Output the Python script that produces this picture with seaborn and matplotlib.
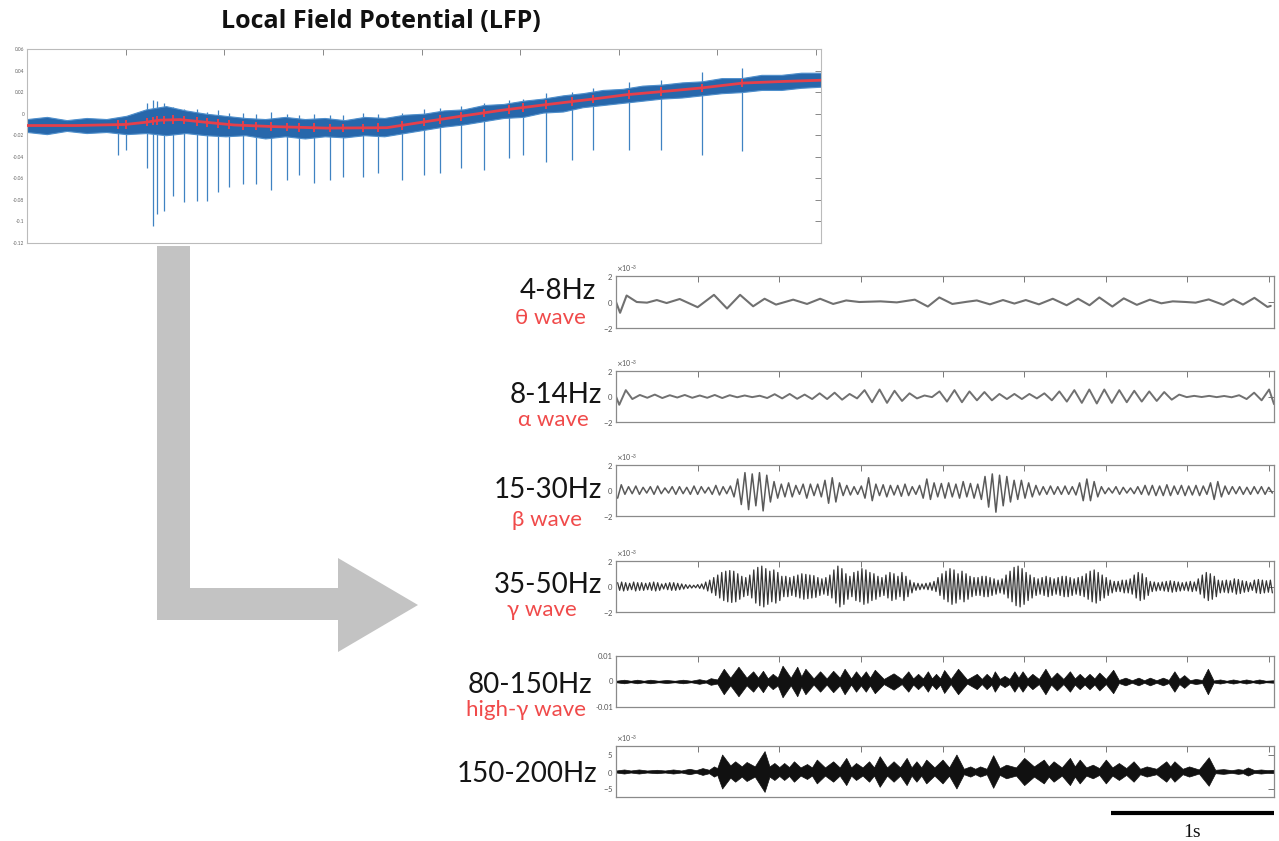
import numpy as np
import matplotlib
matplotlib.use("Agg")
import matplotlib.pyplot as plt
import seaborn as sns
from matplotlib.patches import Polygon
from matplotlib.transforms import blended_transform_factory

# ---------------- DATA ----------------
title_text = "Local Field Potential (LFP)"

# LFP (top panel) -- x in tick units (0..8.05)
lfp_xticks = [1, 2, 3, 4, 5, 6, 7, 8]
lfp_yticks = [-0.12, -0.1, -0.08, -0.06, -0.04, -0.02, 0, 0.02, 0.04, 0.06]
lfp_yticklabels = ["-0.12", "-0.1", "-0.08", "-0.06", "-0.04", "-0.02", "0", "0.02", "0.04", "0.06"]
lfp_band_u = np.linspace(0, 8.05, 41)
lfp_hi = [-0.005, -0.003, -0.006, -0.004, -0.005, -0.002, 0.004, 0.007, 0.003, 0.000,
          -0.002, -0.004, -0.005, -0.003, -0.005, -0.004, -0.006, -0.003, -0.004, -0.001,
          0.000, 0.003, 0.004, 0.008, 0.009, 0.012, 0.014, 0.017, 0.019, 0.022,
          0.023, 0.026, 0.027, 0.029, 0.030, 0.033, 0.033, 0.036, 0.036, 0.038, 0.038]
lfp_lo = [-0.017, -0.019, -0.016, -0.018, -0.017, -0.019, -0.018, -0.020, -0.018, -0.020,
          -0.021, -0.020, -0.023, -0.021, -0.023, -0.021, -0.022, -0.020, -0.021, -0.018,
          -0.015, -0.012, -0.010, -0.007, -0.004, -0.003, 0.001, 0.002, 0.006, 0.008,
          0.010, 0.012, 0.014, 0.015, 0.017, 0.019, 0.020, 0.022, 0.022, 0.024, 0.025]
red_u = [0, 0.5, 1.0, 1.2, 1.35, 1.55, 1.76, 2.1, 2.5, 3.04, 3.65, 4.0, 4.39, 4.8,
         5.23, 5.74, 6.08, 6.5, 6.83, 7.26, 7.7, 8.05]
red_v = [-0.011, -0.011, -0.010, -0.008, -0.006, -0.0055, -0.0075, -0.0105, -0.012,
         -0.0134, -0.013, -0.008, -0.0025, 0.003, 0.008, 0.0136, 0.0176, 0.021, 0.0238,
         0.0284, 0.030, 0.031]
spike_u = [0.92, 1.0, 1.22, 1.28, 1.32, 1.39, 1.48, 1.59, 1.72, 1.83, 1.94, 2.05, 2.19,
           2.32, 2.47, 2.64, 2.76, 2.91, 3.07, 3.2, 3.41, 3.56, 3.8, 4.02, 4.19, 4.4,
           4.63, 4.89, 5.03, 5.26, 5.53, 5.74, 6.1, 6.43, 6.84, 7.25]
spike_min = [-0.038, -0.034, -0.050, -0.104, -0.093, -0.090, -0.076, -0.082, -0.081,
             -0.081, -0.073, -0.068, -0.065, -0.065, -0.071, -0.062, -0.057, -0.064,
             -0.062, -0.059, -0.059, -0.055, -0.062, -0.057, -0.055, -0.050, -0.052,
             -0.041, -0.038, -0.045, -0.043, -0.034, -0.034, -0.034, -0.038, -0.035]
spike_max = [-0.004, -0.002, 0.010, 0.013, 0.012, 0.010, 0.006, 0.004, 0.004, 0.002,
             0.003, 0.001, 0.001, 0.0, 0.002, 0.0, -0.001, 0.0, -0.001, -0.001, 0.001,
             0.0, 0.001, 0.004, 0.005, 0.007, 0.010, 0.013, 0.014, 0.019, 0.020, 0.024,
             0.029, 0.031, 0.039, 0.042]

# Band-filtered traces (time in s, amplitude in units of 1e-3)
band_names = ["4-8Hz", "8-14Hz", "15-30Hz", "35-50Hz", "80-150Hz", "150-200Hz"]
wave_names = ["θ wave", "α wave", "β wave", "γ wave", "high-γ wave", ""]
panel_xticks = [0.5, 1.0, 1.5, 2.0, 2.5, 3.0, 3.5, 4.0]

theta_t = [0.0, 0.025, 0.065, 0.127, 0.19, 0.25, 0.31, 0.39, 0.50, 0.60,
           0.68, 0.76, 0.84, 0.91, 0.98, 1.085, 1.17, 1.25, 1.33, 1.41,
           1.49, 1.62, 1.72, 1.83, 1.91, 1.98, 2.06, 2.15, 2.21, 2.29,
           2.37, 2.44, 2.51, 2.59, 2.675, 2.76, 2.83, 2.90, 2.96, 3.04,
           3.11, 3.19, 3.27, 3.34, 3.41, 3.49, 3.55, 3.63, 3.72, 3.78,
           3.84, 3.91, 3.99, 4.01]
theta_v = [0, -0.83, 0.5, 0.0, -0.05, 0.15, -0.08, 0.23, -0.4, 0.55,
           -0.5, 0.55, -0.33, 0.25, -0.2, 0.18, -0.15, 0.25, -0.15, 0.12,
           0.0, 0.05, -0.03, 0.18, -0.35, 0.35, -0.15, 0.02, 0.12, -0.18,
           0.15, -0.12, 0.15, -0.18, 0.25, -0.25, 0.25, -0.25, 0.35, -0.35,
           0.28, -0.22, 0.18, -0.1, 0.05, 0.0, -0.05, 0.2, -0.22, 0.2,
           -0.2, 0.32, -0.38, -0.3]

alpha_head_t = [0.0, 0.02, 0.06]
alpha_head_v = [0.0, -0.65, 0.5]
alpha_v = [-0.2, 0.12, -0.1, 0.15, -0.12, 0.1, -0.08, 0.12, -0.1, 0.08, -0.1, 0.12,
           -0.12, 0.1, -0.06, 0.08, -0.05, 0.06,
           -0.12, 0.18, -0.15, 0.2, -0.18, 0.15, -0.2, 0.25, -0.2,
           0.3, -0.25, 0.2, -0.15,
           0.5, -0.45, 0.55, -0.5, 0.45, -0.35,
           0.25, -0.15, 0.08, -0.05,
           0.4, -0.4, 0.5, -0.45, 0.4,
           -0.3, 0.35, -0.3, 0.2, -0.2, 0.2,
           -0.2, 0.2, -0.15, 0.25,
           -0.3, 0.4, -0.4, 0.5, -0.5, 0.55, -0.55, 0.55, -0.5, 0.5, -0.45, 0.45, -0.4, 0.4, -0.35,
           0.35, -0.25, 0.15,
           -0.05, 0.05, -0.04, 0.05, -0.05, 0.04, -0.06, 0.1,
           -0.2, 0.3, -0.3, 0.55]
alpha_tail_t = [4.03]
alpha_tail_v = [-0.6]

beta_v = [-0.6, 0.45, -0.3, 0.3, -0.25, 0.35, -0.3, 0.25, -0.2, 0.3, -0.3, 0.35, -0.25, 0.2,
          -0.2, 0.3, -0.3, 0.3, -0.25, 0.25, -0.3, 0.35, -0.3, 0.3, -0.2, 0.25, -0.3, 0.4,
          -0.35, 0.3, -0.25, 0.35,
          -0.5, 0.9, -1.1, 1.4, -1.5, 1.3, -1.2, 1.4, -1.6, 1.2, -0.9,
          0.7, -0.6, 0.5, -0.5, 0.6, -0.5, 0.4, -0.3, 0.5, -0.6, 0.5, -0.4, 0.5, -0.5,
          0.8, -1.0, 1.0, -0.9, 0.6,
          -0.4, 0.4, -0.35, 0.3, -0.3, 0.35,
          -0.6, 1.0, -0.8, 0.5,
          -0.4, 0.45, -0.5, 0.4, -0.35, 0.4, -0.45, 0.5, -0.4, 0.3, -0.3, 0.4,
          -0.6, 0.9, -0.7,
          0.6, -0.5, 0.55, -0.6, 0.6, -0.5, 0.5, -0.6, 0.7, -0.5, 0.55, -0.6, 0.5,
          -0.7, 1.1, -1.3, 1.3, -1.7, 1.2, -1.2, 1.1, -0.9,
          0.8, -0.7, 0.8, -0.6, 0.6, -0.5, 0.4,
          -0.35, 0.3, -0.3, 0.35, -0.3, 0.3, -0.3, 0.35, -0.3, 0.3, -0.35,
          0.6, -0.8, 0.9, -0.8, 0.7, -0.5,
          0.3, -0.25, 0.2, -0.2, 0.3, -0.3, 0.25, -0.2, 0.2, -0.25, 0.3, -0.3,
          0.4, -0.35, 0.4, -0.4, 0.35, -0.4, 0.45, -0.4, 0.35, -0.3, 0.4, -0.4, 0.35, -0.35,
          0.4, -0.4, 0.35, -0.3,
          0.6, -0.7, 0.7, -0.5,
          0.35, -0.3, 0.3, -0.25, 0.3, -0.3, 0.25, -0.3, 0.3, -0.25, 0.3, -0.3, 0.25, -0.2]

gamma_amp = [0.3, 0.35, 0.3, 0.25, 0.35, 0.3, 0.3, 0.25, 0.3, 0.35, 0.3, 0.2, 0.25, 0.3,
             0.3, 0.25, 0.2, 0.15, 0.12, 0.1, 0.15,
             0.2, 0.35, 0.5, 0.7, 0.9, 1.1, 1.2, 1.25, 1.2, 1.0, 0.8,
             0.7, 0.9, 1.3, 1.5, 1.6, 1.4, 1.2, 1.3, 1.1, 0.8,
             0.8, 0.7, 0.8, 0.9, 1.0, 0.95, 0.9, 0.85, 0.7, 0.6, 0.7,
             0.9, 1.3, 1.6, 1.4, 1.0, 0.8, 1.1,
             1.2, 1.4, 1.3, 1.1, 1.0, 0.8, 0.7, 0.9, 1.1, 1.0,
             0.8, 1.1, 0.8, 0.5,
             0.3, 0.25, 0.2, 0.25, 0.3, 0.4,
             0.7, 1.0, 1.2, 1.4, 1.3, 1.0, 1.2, 1.0, 0.8, 0.7,
             0.7, 0.8, 0.8, 0.7, 0.6, 0.5, 0.6,
             0.9, 1.2, 1.5, 1.6, 1.4, 1.1, 0.9,
             0.7, 0.6, 0.7, 0.8, 0.7, 0.6, 0.7, 0.8, 0.8, 0.7, 0.6, 0.7, 0.8,
             1.0, 1.2, 1.3, 1.1, 0.9, 0.7,
             0.5, 0.4, 0.4, 0.5, 0.5, 0.6,
             0.9, 1.1, 1.0, 0.7,
             0.4, 0.35, 0.3, 0.35, 0.4, 0.45, 0.4, 0.35, 0.3, 0.35, 0.4, 0.35,
             0.6, 0.9, 1.1, 1.0, 0.8, 0.5,
             0.45, 0.5, 0.45, 0.6, 0.55, 0.45, 0.4, 0.3,
             0.5, 0.55, 0.5, 0.45, 0.5]

hg_t = [0.00, 0.05, 0.09, 0.13, 0.17, 0.21, 0.26, 0.31, 0.36, 0.41, 0.46, 0.51, 0.55, 0.58,
        0.62, 0.66, 0.70, 0.75, 0.80, 0.84, 0.87, 0.90, 0.93, 0.96, 0.99, 1.02, 1.07, 1.11,
        1.135, 1.16, 1.21, 1.25, 1.29, 1.33, 1.37, 1.40, 1.44, 1.47, 1.50, 1.53, 1.555,
        1.585, 1.64, 1.70, 1.75, 1.79, 1.82, 1.85, 1.88, 1.91, 1.935, 1.96, 1.985, 2.01,
        2.05, 2.095, 2.15, 2.21, 2.24, 2.27, 2.30, 2.32, 2.35, 2.38, 2.41, 2.44, 2.465,
        2.49, 2.52, 2.55, 2.59, 2.63, 2.665, 2.70, 2.74, 2.78, 2.81, 2.84, 2.87, 2.90,
        2.93, 2.96, 3.00, 3.045, 3.08, 3.12, 3.16, 3.20, 3.235, 3.27, 3.31, 3.35, 3.385,
        3.42, 3.45, 3.48, 3.515, 3.55, 3.59, 3.625, 3.66, 3.70, 3.74, 3.78, 3.82, 3.86,
        3.90, 3.94, 3.98, 4.03]
hg_amp = [0.3, 0.7, 0.3, 0.7, 0.3, 0.7, 0.3, 0.6, 0.3, 0.7, 0.3, 0.9, 0.4, 1.3,
          0.8, 5.0, 1.5, 5.8, 1.5, 4.0, 1.5, 4.2, 1.2, 3.0, 1.5, 6.2, 1.5, 5.8,
          2.0, 5.0, 1.2, 4.0, 1.2, 4.2, 1.5, 5.0, 1.2, 4.0, 1.5, 4.0, 1.5,
          4.6, 1.0, 3.2, 1.0, 4.0, 1.2, 3.0, 1.2, 4.0, 1.2, 3.0, 1.2, 4.5,
          1.0, 5.0, 0.8, 3.0, 1.0, 3.0, 1.2, 4.0, 1.0, 2.2, 1.0, 4.0, 1.5,
          4.0, 1.2, 3.0, 1.0, 5.0, 1.2, 3.5, 1.0, 4.0, 1.2, 3.0, 1.2, 3.0,
          1.2, 3.5, 1.0, 4.6, 0.6, 1.5, 0.5, 1.5, 0.5, 1.5, 0.5, 1.5, 0.6,
          4.0, 1.0, 2.5, 0.5, 1.0, 0.6, 5.0, 0.4, 0.8, 0.3, 0.8, 0.3, 0.8,
          0.3, 0.8, 0.3, 0.5]

uhg_t = [0.00, 0.05, 0.09, 0.14, 0.19, 0.25, 0.30, 0.35, 0.40, 0.45, 0.49, 0.53, 0.57,
         0.60, 0.62, 0.65, 0.70, 0.73, 0.77, 0.80, 0.85, 0.91, 0.94, 0.97, 1.00, 1.03,
         1.06, 1.09, 1.13, 1.17, 1.20, 1.23, 1.28, 1.33, 1.37, 1.41, 1.44, 1.47, 1.51,
         1.55, 1.58, 1.615, 1.66, 1.70, 1.74, 1.78, 1.81, 1.84, 1.87, 1.90, 1.95, 2.00,
         2.04, 2.085, 2.13, 2.17, 2.20, 2.23, 2.27, 2.31, 2.35, 2.39, 2.45, 2.50, 2.56,
         2.62, 2.65, 2.68, 2.73, 2.78, 2.81, 2.84, 2.88, 2.92, 2.96, 3.00, 3.04, 3.08,
         3.125, 3.17, 3.21, 3.25, 3.31, 3.37, 3.395, 3.42, 3.47, 3.51, 3.57, 3.63, 3.67,
         3.72, 3.77, 3.81, 3.84, 3.87, 3.91, 3.95, 3.99, 4.03]
uhg_amp = [0.3, 0.6, 0.3, 0.6, 0.3, 0.5, 0.3, 0.6, 0.3, 0.8, 0.4, 1.0, 0.5,
           1.5, 1.0, 5.0, 1.8, 3.0, 1.5, 2.8, 1.5, 6.0, 1.5, 2.5, 1.3, 2.5,
           1.3, 3.0, 1.2, 2.2, 1.2, 3.5, 1.2, 3.0, 1.2, 4.0, 1.2, 2.5, 1.2,
           3.0, 1.2, 4.5, 1.2, 3.0, 1.2, 4.0, 1.2, 3.0, 1.2, 3.5, 1.2, 3.5,
           1.2, 5.0, 0.8, 1.5, 0.8, 1.5, 0.8, 4.8, 1.0, 2.0, 1.2, 4.0, 1.5,
           3.5, 1.5, 3.0, 1.2, 4.0, 1.5, 3.5, 1.2, 2.0, 1.0, 3.5, 1.2, 2.5,
           1.0, 3.0, 0.8, 1.5, 0.8, 3.0, 1.5, 3.0, 0.8, 1.5, 0.6, 4.2, 0.5,
           0.7, 0.4, 0.7, 0.5, 1.2, 0.4, 0.6, 0.4, 0.5]

scalebar_start = 3.03
scalebar_len = 1.0
scalebar_label = "1s"

# ---------------- STYLE ----------------
sns.set_style("white")
plt.rcParams["font.family"] = ["Lato", "DejaVu Sans"]
plt.rcParams["axes.unicode_minus"] = True

W, H = 1279, 841
fig = plt.figure(figsize=(W / 100, H / 100), dpi=100)


def axes_px(left, top, right, bottom):
    return fig.add_axes([left / W, 1 - bottom / H, (right - left) / W, (bottom - top) / H])


def fpt(px, py):
    return (px / W, 1 - py / H)


SPINE = "#8a8a8a"
TICKC = "#555555"

# ---------------- LFP PANEL ----------------
ax0 = axes_px(27, 49, 821, 243)
blue = "#2767ab"
ax0.vlines(spike_u, spike_min, spike_max, color="#3f82c2", linewidth=0.9, zorder=1)
ax0.fill_between(lfp_band_u, lfp_lo, lfp_hi, color=blue, linewidth=0.8,
                 edgecolor="#4f8fcb", zorder=2)
sns.lineplot(x=red_u, y=red_v, ax=ax0, color="#e5404b", linewidth=2.0, zorder=3,
             estimator=None, sort=False)
red_at_spike = np.interp(spike_u, red_u, red_v)
ax0.vlines(spike_u, red_at_spike - 0.004, red_at_spike + 0.004, color="#e5404b",
           linewidth=1.4, zorder=3)
ax0.set_xlim(0, 8.05)
ax0.set_ylim(-0.12, 0.06)
ax0.set_xticks(lfp_xticks)
ax0.set_yticks(lfp_yticks)
ax0.set_yticklabels(lfp_yticklabels)
ax0.tick_params(direction="in", top=True, right=True, length=4, width=0.7,
                color="#888888", labelbottom=False, labelsize=3.5,
                labelcolor="#666666", pad=2)
for s in ax0.spines.values():
    s.set_color("#bbbbbb")
    s.set_linewidth(0.8)
ax0.set_xlabel("")
ax0.set_ylabel("")

fig.text(*fpt(381, 22), title_text, ha="center", va="center", fontsize=18,
         fontweight="bold", family=["Open Sans", "DejaVu Sans"], color="#111111")

# ---------------- ARROW ----------------
arrow_px = [(157, 246), (190, 246), (190, 588), (338, 588), (338, 558), (418, 605),
            (338, 652), (338, 620), (157, 620)]
fig.patches.append(Polygon([fpt(x, y) for x, y in arrow_px], closed=True,
                           transform=fig.transFigure, facecolor="#c3c3c3",
                           edgecolor="none", zorder=0))

# ---------------- BAND PANELS ----------------
panel_px = [(276, 328), (371, 422), (465, 516), (561, 612), (656, 707), (746, 797)]
name_pos = [(596, 299), (602, 403), (602, 498), (602, 593), (592, 693), (597, 782)]
wave_pos = [(586, 324), (589, 426), (582, 526), (577, 616), (586, 716), (0, 0)]

axes = []
for i, (top, bot) in enumerate(panel_px):
    ax = axes_px(616, top, 1274, bot)
    axes.append(ax)

# theta
sns.lineplot(x=theta_t, y=np.array(theta_v) * 1e-3, ax=axes[0], color="#707070",
             linewidth=1.5, estimator=None, sort=False)
# alpha
alpha_t = np.concatenate([alpha_head_t, np.linspace(0.10, 4.0, len(alpha_v)), alpha_tail_t])
alpha_all = np.concatenate([alpha_head_v, alpha_v, alpha_tail_v])
sns.lineplot(x=alpha_t, y=alpha_all * 1e-3, ax=axes[1], color="#707070",
             linewidth=1.4, estimator=None, sort=False)
# beta
beta_t = np.linspace(0.01, 4.02, len(beta_v))
sns.lineplot(x=beta_t, y=np.array(beta_v) * 1e-3, ax=axes[2], color="#5a5a5a",
             linewidth=1.1, estimator=None, sort=False)
# gamma: each cycle drawn as a peak followed by a trough
g = np.array(gamma_amp)
gamma_y = np.empty(2 * len(g))
gamma_y[0::2] = g
gamma_y[1::2] = -g
gamma_t = np.linspace(0.01, 4.02, len(gamma_y))
sns.lineplot(x=gamma_t, y=gamma_y * 1e-3, ax=axes[3], color="#353535",
             linewidth=0.9, estimator=None, sort=False)
# high gamma envelopes
for ax, tt, aa in [(axes[4], hg_t, hg_amp), (axes[5], uhg_t, uhg_amp)]:
    a = np.array(aa) * 1e-3
    ax.fill_between(tt, -a, a, color="#111111", linewidth=0.5, edgecolor="#111111")
    sns.lineplot(x=tt, y=np.zeros(len(tt)), ax=ax, color="#111111", linewidth=1.2,
                 estimator=None, sort=False)

ylims = [2e-3, 2e-3, 2e-3, 2e-3, 0.01, 7.5e-3]
yticks = [[-2e-3, 0, 2e-3]] * 4 + [[-0.01, 0, 0.01], [-5e-3, 0, 5e-3]]
for i, ax in enumerate(axes):
    ax.set_xlim(0, 4.03)
    ax.set_ylim(-ylims[i], ylims[i])
    ax.set_xticks(panel_xticks)
    ax.set_yticks(yticks[i])
    if i == 4:
        ax.set_yticklabels(["-0.01", "0", "0.01"])
    else:
        ax.ticklabel_format(axis="y", style="sci", scilimits=(0, 0), useMathText=True)
        ax.yaxis.get_offset_text().set_fontsize(5)
        ax.yaxis.get_offset_text().set_color(TICKC)
    ax.tick_params(direction="in", top=True, right=True, length=4, width=0.7,
                   color="#777777", labelbottom=False, labelsize=5.5,
                   labelcolor=TICKC, pad=2)
    for s in ax.spines.values():
        s.set_color(SPINE)
        s.set_linewidth(0.9)
    ax.set_xlabel("")
    ax.set_ylabel("")
    fig.text(*fpt(*name_pos[i]), band_names[i], ha="right", va="baseline",
             fontsize=20, color="#151515")
    if wave_names[i]:
        fig.text(*fpt(*wave_pos[i]), wave_names[i], ha="right", va="baseline",
                 fontsize=16, color="#f04a4a")

# scale bar (1 s) under the last panel
axb = axes[5]
tr = blended_transform_factory(axb.transData, axb.transAxes)
axb.plot([scalebar_start, scalebar_start + scalebar_len], [-0.31, -0.31], color="black",
         linewidth=3, transform=tr, clip_on=False, solid_capstyle="butt")
axb.text(scalebar_start + scalebar_len / 2, -0.69, scalebar_label, transform=tr,
         ha="center", va="center", fontsize=14, family="Liberation Serif", color="#111111")

fig.savefig("out.png", dpi=100)
